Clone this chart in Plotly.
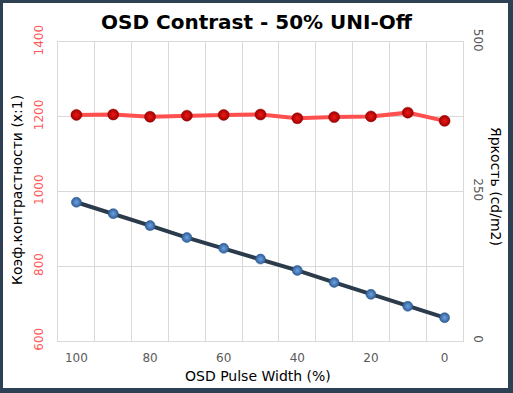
import plotly.graph_objects as go

pulse_width = [100, 90, 80, 70, 60, 50, 40, 30, 20, 10, 0]
contrast = [1205, 1206, 1200, 1203, 1205, 1206, 1196, 1199, 1201, 1211, 1189]
brightness = [232, 213, 193, 173, 155, 137, 118, 98, 78, 58, 39]

x_ticks = [100, 80, 60, 40, 20, 0]
left_ticks = [600, 800, 1000, 1200, 1400]
right_ticks = [0, 250, 500]

FONT = "DejaVu Sans"

fig = go.Figure()
fig.add_trace(go.Scatter(
    x=pulse_width, y=brightness, yaxis="y2", mode="lines+markers",
    line=dict(color="#2b3b4c", width=4),
    marker=dict(color="#2f5f99", size=10, line=dict(color="#2a5688", width=0.5),
                gradient=dict(type="radial", color="#6fa2e0")),
    showlegend=False,
))
fig.add_trace(go.Scatter(
    x=pulse_width, y=contrast, mode="lines+markers",
    line=dict(color="#ff4f4f", width=4),
    marker=dict(color="#a00000", size=11, line=dict(color="#8b0000", width=0.5),
                gradient=dict(type="radial", color="#f01818")),
    showlegend=False,
))

fig.update_layout(
    width=513, height=393,
    margin=dict(l=58, r=50, t=42, b=52, autoexpand=False),
    paper_bgcolor="#2e4053",
    plot_bgcolor="rgba(0,0,0,0)",
    font=dict(family=FONT, size=12, color="#595959"),
    title=dict(text="<b>OSD Contrast - 50% UNI-Off</b>", x=0.5, xanchor="center",
               y=1 - 22 / 393, yanchor="middle",
               font=dict(family=FONT, size=20, color="#000000")),
    xaxis=dict(
        range=[105, -5], tickmode="array", tickvals=x_ticks,
        ticktext=[str(v) for v in x_ticks], showgrid=False,
        showline=True, linecolor="#d9d9d9", linewidth=1, mirror=True,
        ticks="", ticklabelstandoff=6, zeroline=False,
        tickfont=dict(size=12, color="#595959"),
        minor=dict(tickmode="linear", tick0=5, dtick=10, showgrid=True,
                   gridcolor="#d9d9d9", gridwidth=1, ticks=""),
    ),
    yaxis=dict(
        range=[600, 1400], tickmode="array", tickvals=left_ticks,
        showgrid=True, gridcolor="#d9d9d9", gridwidth=1, zeroline=False,
        showline=True, linecolor="#d9d9d9", linewidth=1,
        tickangle=-90, ticks="", ticklabelstandoff=9,
        tickfont=dict(size=12, color="#ff5a5a"),
    ),
    yaxis2=dict(
        range=[0, 500], tickmode="array", tickvals=right_ticks,
        overlaying="y", side="right", showgrid=False, zeroline=False,
        showline=True, linecolor="#d9d9d9", linewidth=1,
        tickangle=90, ticks="", ticklabelstandoff=5,
        tickfont=dict(size=12, color="#595959"),
    ),
    shapes=[dict(type="rect", xref="paper", yref="paper", layer="below",
                 x0=(3 - 58) / 405, x1=(508 - 58) / 405,
                 y0=(341 - 388) / 299, y1=(341 - 3) / 299,
                 fillcolor="#ffffff", line=dict(width=0))],
    annotations=[
        dict(text="Коэф.контрастности (x:1)", xref="paper", yref="paper",
             x=(17 - 58) / 405, y=(341 - 190) / 299, textangle=-90,
             showarrow=False, xanchor="center", yanchor="middle",
             font=dict(family=FONT, size=14, color="#000000")),
        dict(text="Яркость (cd/m2)", xref="paper", yref="paper",
             x=(496 - 58) / 405, y=(341 - 186) / 299, textangle=90,
             showarrow=False, xanchor="center", yanchor="middle",
             font=dict(family=FONT, size=14, color="#000000")),
        dict(text="OSD Pulse Width (%)", xref="paper", yref="paper",
             x=(258 - 58) / 405, y=(341 - 376) / 299,
             showarrow=False, xanchor="center", yanchor="middle",
             font=dict(family=FONT, size=14, color="#000000")),
    ],
)

fig.write_html("out.html", config={"displayModeBar": False},
               post_script="document.body.style.margin='0';document.body.style.overflow='hidden';")
